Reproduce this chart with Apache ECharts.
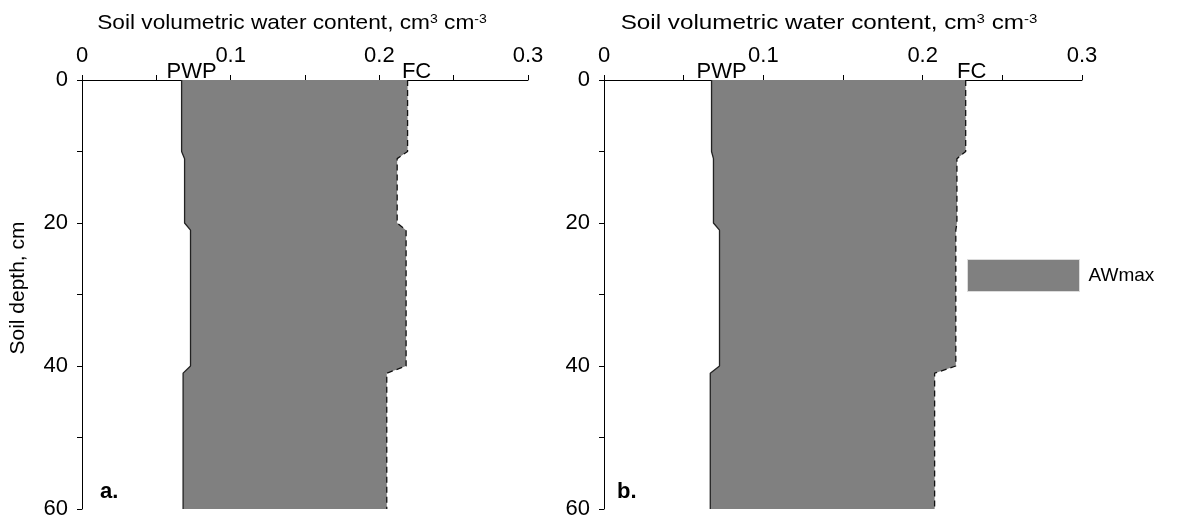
<!DOCTYPE html>
<html>
<head>
<meta charset="utf-8">
<title>Soil water profiles</title>
<script src="https://cdn.jsdelivr.net/npm/echarts@6/dist/echarts.min.js"></script>
<style>
  html, body { margin: 0; padding: 0; background: #fff; }
  #chart { width: 1188px; height: 520px; }
</style>
</head>
<body>
<div id="chart"></div>
<script>
// Depths (cm) at which the profile values change
const depthSteps = [0, 10, 11, 20, 21, 40, 41, 60];

// Panel a: permanent wilting point and field capacity (cm3 cm-3)
const pwpA = [0.067, 0.067, 0.069, 0.069, 0.073, 0.073, 0.068, 0.068];
const fcA  = [0.219, 0.219, 0.212, 0.212, 0.218, 0.218, 0.205, 0.205];

// Panel b
const pwpB = [0.0675, 0.0675, 0.0687, 0.0687, 0.0725, 0.0725, 0.0667, 0.0667];
const fcB  = [0.227, 0.227, 0.2215, 0.2215, 0.2208, 0.2208, 0.2075, 0.2075];

// Axis ticks and labels
const xTicks = [0, 0.1, 0.2, 0.3];
const yTicks = [0, 20, 40, 60];
const panelLabels = ['a.', 'b.'];
const xTitle = 'Soil volumetric water content, cm{sup|3} cm{sup|-3}';
const yTitle = 'Soil depth, cm';
const legendName = 'AWmax';

const FONT = 'Liberation Sans, Arial, Helvetica, sans-serif';
const FILL = '#808080';

const toPairs = (vals) => vals.map((v, i) => [v, depthSteps[i]]);

// Shaded band between the PWP profile and the FC profile
function bandRenderer(pwp, fc) {
  return function (params, api) {
    const left = toPairs(pwp).map(p => api.coord(p));
    const right = toPairs(fc).reverse().map(p => api.coord(p));
    return {
      type: 'polygon',
      shape: { points: left.concat(right) },
      style: { fill: FILL, stroke: null }
    };
  };
}

function profileLine(name, vals, idx, labelText, dx, dashed) {
  const data = toPairs(vals).map((p, i) => {
    if (i !== 0) return p;
    return {
      value: p,
      label: {
        show: true, formatter: labelText, position: 'inside', offset: [dx, -8],
        fontSize: 22, color: '#000', fontFamily: FONT
      }
    };
  });
  return {
    type: 'line', name: name, xAxisIndex: idx, yAxisIndex: idx,
    data: data, symbol: 'circle', symbolSize: 1, showSymbol: true,
    itemStyle: { color: 'rgba(0,0,0,0)' },
    lineStyle: dashed
      ? { color: '#111', width: 1.3, type: [6, 4] }
      : { color: '#222', width: 1.3 },
    silent: true, z: 3, clip: false
  };
}

function xAxisFor(idx) {
  return {
    gridIndex: idx, type: 'value', position: 'top',
    min: 0, max: 0.3, interval: 0.05,
    axisLine: { show: true, onZero: false, lineStyle: { color: '#000', width: 1 } },
    axisTick: { show: true, length: 5, lineStyle: { color: '#000' } },
    axisLabel: {
      fontSize: 22, color: '#000', fontFamily: FONT, margin: 13,
      formatter: function (v) {
        const r = Math.round(v * 10) / 10;
        return xTicks.some(t => Math.abs(t - v) < 1e-9) ? String(r) : '';
      }
    },
    splitLine: { show: false }
  };
}

function yAxisFor(idx) {
  return {
    gridIndex: idx, type: 'value', inverse: true,
    min: 0, max: 60, interval: 10,
    axisLine: { show: true, onZero: false, lineStyle: { color: '#000', width: 1 } },
    axisTick: { show: true, length: 5, lineStyle: { color: '#000' } },
    axisLabel: {
      fontSize: 22, color: '#000', fontFamily: FONT, margin: 14,
      formatter: v => (yTicks.indexOf(v) >= 0 ? String(v) : '')
    },
    splitLine: { show: false }
  };
}

// Axis title above each panel, slightly widened like the rest of the lettering
function panelTitle(cx, stretch) {
  return {
    type: 'text', x: cx, y: 23, scaleX: stretch, silent: true,
    style: {
      text: xTitle, align: 'center', verticalAlign: 'middle',
      font: '21px ' + FONT, fill: '#000',
      rich: { sup: { font: '13px ' + FONT, fill: '#000', verticalAlign: 'top' } }
    }
  };
}

const chart = echarts.init(document.getElementById('chart'), null, { renderer: 'canvas' });

chart.setOption({
  animation: false,
  backgroundColor: '#fff',
  textStyle: { fontFamily: FONT },
  grid: [
    { left: 82, top: 80, width: 446, height: 431 },
    { left: 604, top: 80, width: 478, height: 431 }
  ],
  xAxis: [xAxisFor(0), xAxisFor(1)],
  yAxis: [yAxisFor(0), yAxisFor(1)],
  legend: {
    data: [{ name: legendName, icon: 'rect',
             itemStyle: { color: FILL, borderColor: '#dcdcdc', borderWidth: 1 } }],
    left: 967, top: 259, padding: 0,
    itemWidth: 112, itemHeight: 32, selectedMode: false,
    textStyle: { fontSize: 19, color: '#000', fontFamily: FONT, padding: [0, 0, 0, 4] }
  },
  graphic: [
    panelTitle(292, 1.08),
    panelTitle(829, 1.155),
    { type: 'text', x: 18, y: 288, rotation: Math.PI / 2, silent: true,
      style: { text: yTitle, align: 'center', verticalAlign: 'middle',
               font: '21px ' + FONT, fill: '#000' } },
    { type: 'text', left: 100, top: 481, silent: true,
      style: { text: panelLabels[0], fill: '#000', font: 'bold 22px ' + FONT } },
    { type: 'text', left: 617, top: 481, silent: true,
      style: { text: panelLabels[1], fill: '#000', font: 'bold 22px ' + FONT } }
  ],
  series: [
    { type: 'custom', name: legendName, xAxisIndex: 0, yAxisIndex: 0,
      data: [[0, 0]], renderItem: bandRenderer(pwpA, fcA),
      itemStyle: { color: FILL }, silent: true, z: 1 },
    { type: 'custom', name: legendName, xAxisIndex: 1, yAxisIndex: 1,
      data: [[0, 0]], renderItem: bandRenderer(pwpB, fcB),
      itemStyle: { color: FILL }, silent: true, z: 1 },
    profileLine('PWP a', pwpA, 0, 'PWP', 10, false),
    profileLine('FC a', fcA, 0, 'FC', 9, true),
    profileLine('PWP b', pwpB, 1, 'PWP', 10, false),
    profileLine('FC b', fcB, 1, 'FC', 6, true)
  ]
});
</script>
</body>
</html>
